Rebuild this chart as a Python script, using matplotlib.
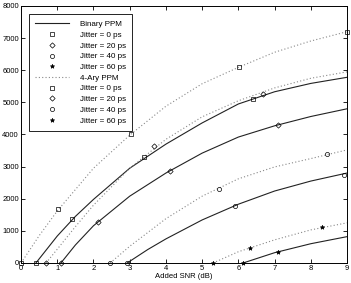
import matplotlib
matplotlib.use("Agg")
import matplotlib.pyplot as plt
from matplotlib.lines import Line2D

# ---- fitted curves (added SNR dB -> value) ----
bin_j0_x = [0.41, 1, 1.5, 2, 3, 4, 5, 6, 7, 8, 9]
bin_j0_y = [0, 840, 1450, 1980, 2950, 3700, 4360, 4950, 5330, 5590, 5780]
bin_j20_x = [1.1, 1.5, 2, 3, 4, 5, 6, 7, 8, 9]
bin_j20_y = [0, 560, 1160, 2080, 2800, 3420, 3920, 4270, 4560, 4800]
bin_j40_x = [2.93, 3.5, 4, 5, 6, 7, 8, 9]
bin_j40_y = [0, 420, 750, 1340, 1830, 2240, 2550, 2800]
bin_j60_x = [6.13, 7, 8, 9]
bin_j60_y = [0, 320, 600, 820]

ary_j0_x = [0, 0.5, 1, 2, 3, 4, 5, 6, 7, 8, 9]
ary_j0_y = [0, 850, 1620, 2950, 3980, 4880, 5580, 6090, 6560, 6910, 7200]
ary_j20_x = [0.69, 1, 1.5, 2, 3, 4, 5, 6, 7, 8, 9]
ary_j20_y = [0, 430, 1130, 1800, 2950, 3850, 4550, 5050, 5450, 5750, 5950]
ary_j40_x = [2.46, 3, 4, 5, 6, 7, 8, 9]
ary_j40_y = [0, 520, 1380, 2080, 2620, 2990, 3250, 3520]
ary_j60_x = [5.3, 6, 7, 8, 9]
ary_j60_y = [0, 350, 720, 1030, 1250]

# ---- simulated points (markers) ----
bin_m0_x = [0.41, 1.41, 3.4, 6.41]
bin_m0_y = [0, 1370, 3300, 5100]
bin_m20_x = [1.1, 2.12, 4.12, 7.1]
bin_m20_y = [0, 1280, 2860, 4300]
bin_m40_x = [2.93, 5.91, 8.92]
bin_m40_y = [0, 1780, 2740]
bin_m60_x = [6.13, 7.1]
bin_m60_y = [0, 340]

ary_m0_x = [0, 1.03, 3.04, 6.02, 9.0]
ary_m0_y = [0, 1680, 4010, 6100, 7190]
ary_m20_x = [0.69, 3.67, 6.68]
ary_m20_y = [0, 3640, 5260]
ary_m40_x = [2.46, 5.47, 8.45]
ary_m40_y = [0, 2300, 3390]
ary_m60_x = [5.3, 6.33, 8.32]
ary_m60_y = [0, 470, 1120]

jitters = [0, 20, 40, 60]
markers = ['s', 'D', 'o', '*']
msizes = [2.8, 2.7, 3.0, 3.2]

bin_lines = [(bin_j0_x, bin_j0_y), (bin_j20_x, bin_j20_y), (bin_j40_x, bin_j40_y), (bin_j60_x, bin_j60_y)]
ary_lines = [(ary_j0_x, ary_j0_y), (ary_j20_x, ary_j20_y), (ary_j40_x, ary_j40_y), (ary_j60_x, ary_j60_y)]
bin_pts = [(bin_m0_x, bin_m0_y), (bin_m20_x, bin_m20_y), (bin_m40_x, bin_m40_y), (bin_m60_x, bin_m60_y)]
ary_pts = [(ary_m0_x, ary_m0_y), (ary_m20_x, ary_m20_y), (ary_m40_x, ary_m40_y), (ary_m60_x, ary_m60_y)]

plt.rcParams['font.family'] = ['Liberation Sans', 'DejaVu Sans']

fig = plt.figure(figsize=(3.51, 2.83), dpi=100)
ax = fig.add_axes([0.06, 0.0707, 0.9286, 0.9081])

solid_color = '#222222'
dot_color = '#888888'

for (x, y) in bin_lines:
    ax.plot(x, y, color=solid_color, lw=0.8, clip_on=False)
for (x, y) in ary_lines:
    ax.plot(x, y, color=dot_color, lw=0.8, ls=(0, (1, 2)), clip_on=False)

for (x, y), m, s in zip(bin_pts + ary_pts, markers * 2, msizes * 2):
    ax.plot(x, y, ls='none', marker=m, ms=s, mfc='none' if m != '*' else 'k',
            mec='k', mew=0.5, clip_on=False, zorder=5)

ax.set_xlim(0, 9)
ax.set_ylim(0, 8000)
ax.set_xticks(range(0, 10))
ax.set_yticks(range(0, 8001, 1000))
ax.tick_params(direction='in', length=3, width=0.6, labelsize=5.5, pad=1.5,
               top=True, right=True)
for sp in ax.spines.values():
    sp.set_linewidth(0.7)
ax.set_xlabel('Added SNR (dB)', fontsize=5.5, labelpad=1)

# legend
handles = [Line2D([], [], color=solid_color, lw=0.8)]
labels = ['Binary PPM']
for j, m, s in zip(jitters, markers, msizes):
    handles.append(Line2D([], [], ls='none', marker=m, ms=s, mec='k',
                          mfc='none' if m != '*' else 'k', mew=0.5))
    labels.append(f'Jitter = {j} ps')
handles.append(Line2D([], [], color=dot_color, lw=0.8, ls=(0, (1, 2))))
labels.append('4-Ary PPM')
for j, m, s in zip(jitters, markers, msizes):
    handles.append(Line2D([], [], ls='none', marker=m, ms=s, mec='k',
                          mfc='none' if m != '*' else 'k', mew=0.5))
    labels.append(f'Jitter = {j} ps')

leg = ax.legend(handles, labels, loc='upper left', fontsize=5.8, frameon=True,
                fancybox=False, edgecolor='k', framealpha=1, borderpad=0.8,
                labelspacing=0.38, handlelength=4.2, handletextpad=1.3,
                bbox_to_anchor=(0.012, 0.984))
leg.get_frame().set_linewidth(0.6)

fig.savefig('out.png', dpi=100)
